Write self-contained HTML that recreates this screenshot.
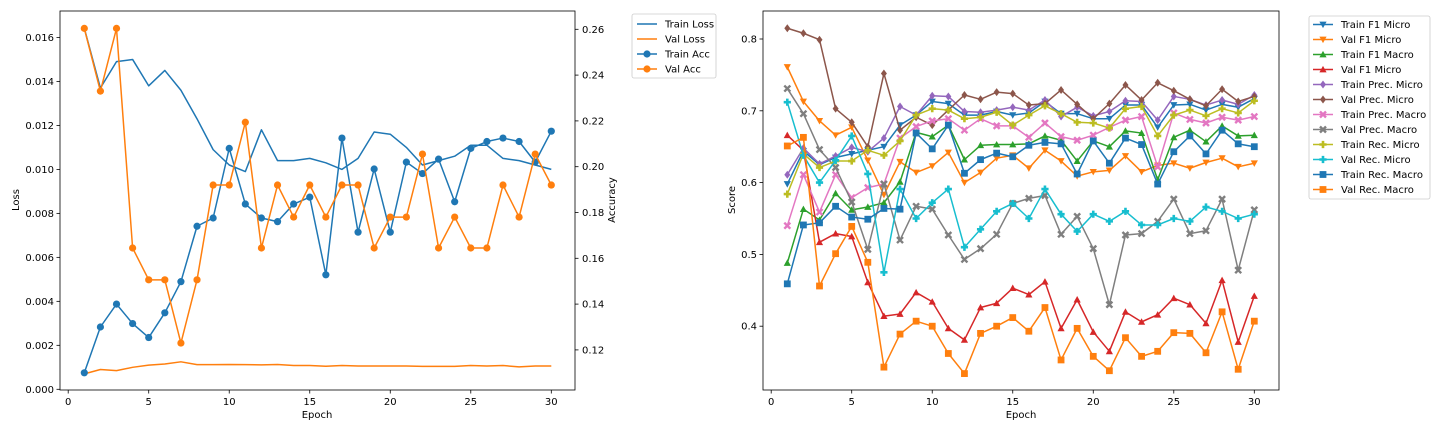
<!DOCTYPE html>
<html><head><meta charset="utf-8"><style>
body{margin:0;background:#fff;width:1440px;height:432px;overflow:hidden}
svg text{font-family:"DejaVu Sans","Liberation Sans",sans-serif;font-size:10px;fill:#000}
</style></head><body>
<svg id="c" width="1440" height="432" xmlns="http://www.w3.org/2000/svg"></svg>
<script>
const epochs=[];for(let i=1;i<=30;i++)epochs.push(i);
const trainLoss=[0.01642,0.0137,0.0149,0.0150,0.0138,0.0145,0.0136,0.0123,0.0109,0.0102,0.0099,0.0118,0.0104,0.0104,0.0105,0.0103,0.0100,0.0105,0.0117,0.0116,0.0110,0.0102,0.0104,0.0106,0.0111,0.0111,0.0105,0.0104,0.0102,0.0100];
const valLoss=[0.0007,0.0009,0.00085,0.0010,0.0011,0.00115,0.00125,0.00112,0.00112,0.00113,0.00112,0.00111,0.00113,0.00108,0.00108,0.00105,0.00108,0.00106,0.00106,0.00106,0.00106,0.00104,0.00104,0.00104,0.00108,0.00106,0.00108,0.00102,0.00106,0.00106];
const trainAcc=[0.110,0.130,0.140,0.1315,0.1254,0.1362,0.1498,0.174,0.1776,0.208,0.1837,0.1776,0.176,0.1837,0.1867,0.1528,0.2125,0.1714,0.199,0.1714,0.202,0.197,0.2033,0.1847,0.208,0.211,0.2125,0.211,0.202,0.2155];
const valAcc=[0.2604,0.233,0.2604,0.1645,0.1506,0.1506,0.123,0.1506,0.192,0.192,0.2194,0.1645,0.192,0.178,0.192,0.178,0.192,0.192,0.1645,0.178,0.178,0.2055,0.1645,0.178,0.1645,0.1645,0.192,0.178,0.2055,0.192];
const lossTicks=["0.000","0.002","0.004","0.006","0.008","0.010","0.012","0.014","0.016"];
const accTicks=["0.12","0.14","0.16","0.18","0.20","0.22","0.24","0.26"];
const xTicks=[0,5,10,15,20,25,30];
const scoreTicks=["0.4","0.5","0.6","0.7","0.8"];
const seriesNames=["Train F1 Micro","Val F1 Micro","Train F1 Macro","Val F1 Micro","Train Prec. Micro","Val Prec. Micro","Train Prec. Macro","Val Prec. Macro","Train Rec. Micro","Val Rec. Micro","Train Rec. Macro","Val Rec. Macro"];
const trainF1Micro=[0.598,0.644,0.625,0.635,0.640,0.645,0.650,0.680,0.694,0.713,0.710,0.694,0.694,0.699,0.694,0.697,0.713,0.696,0.696,0.689,0.689,0.708,0.708,0.677,0.708,0.709,0.701,0.709,0.705,0.717];
const valF1Micro=[0.761,0.713,0.686,0.666,0.677,0.631,0.583,0.629,0.614,0.623,0.642,0.600,0.614,0.634,0.638,0.620,0.645,0.630,0.609,0.615,0.617,0.637,0.615,0.624,0.627,0.620,0.628,0.634,0.622,0.627];
const trainF1Macro=[0.488,0.563,0.548,0.585,0.562,0.566,0.572,0.601,0.670,0.664,0.680,0.632,0.652,0.653,0.653,0.654,0.665,0.659,0.630,0.658,0.650,0.672,0.669,0.604,0.663,0.673,0.657,0.679,0.665,0.666];
const valF1Macro=[0.666,0.645,0.517,0.529,0.525,0.461,0.414,0.417,0.447,0.434,0.397,0.381,0.426,0.432,0.453,0.444,0.462,0.397,0.437,0.392,0.365,0.420,0.406,0.416,0.439,0.430,0.404,0.464,0.378,0.442];
const trainPrecMicro=[0.611,0.648,0.626,0.637,0.649,0.643,0.662,0.706,0.694,0.721,0.720,0.699,0.698,0.701,0.705,0.701,0.715,0.692,0.705,0.693,0.699,0.714,0.713,0.687,0.720,0.716,0.708,0.715,0.709,0.722];
const valPrecMicro=[0.815,0.808,0.799,0.703,0.684,0.650,0.752,0.673,0.691,0.680,0.701,0.722,0.716,0.726,0.724,0.708,0.710,0.729,0.709,0.689,0.710,0.736,0.715,0.739,0.728,0.716,0.707,0.730,0.713,0.720];
const trainPrecMacro=[0.540,0.611,0.559,0.611,0.579,0.593,0.598,0.662,0.678,0.686,0.689,0.673,0.689,0.679,0.679,0.663,0.683,0.664,0.659,0.666,0.677,0.687,0.692,0.622,0.697,0.688,0.683,0.691,0.687,0.692];
const valPrecMacro=[0.731,0.696,0.646,0.621,0.573,0.507,0.598,0.520,0.567,0.563,0.527,0.493,0.508,0.528,0.571,0.578,0.582,0.528,0.553,0.508,0.430,0.527,0.529,0.546,0.577,0.529,0.533,0.577,0.478,0.562];
const trainRecMicro=[0.584,0.640,0.621,0.630,0.630,0.645,0.638,0.658,0.694,0.703,0.701,0.689,0.691,0.698,0.680,0.694,0.707,0.696,0.684,0.683,0.676,0.703,0.706,0.665,0.694,0.701,0.693,0.703,0.697,0.714];
const valRecMicro=[0.712,0.638,0.600,0.631,0.665,0.612,0.475,0.591,0.550,0.572,0.591,0.510,0.535,0.560,0.571,0.550,0.591,0.556,0.532,0.556,0.546,0.560,0.541,0.541,0.550,0.546,0.566,0.560,0.550,0.556];
const trainRecMacro=[0.459,0.541,0.544,0.567,0.552,0.549,0.564,0.563,0.669,0.647,0.680,0.613,0.632,0.641,0.636,0.652,0.656,0.654,0.612,0.658,0.627,0.662,0.653,0.598,0.643,0.665,0.640,0.673,0.654,0.650];
const valRecMacro=[0.651,0.663,0.456,0.501,0.539,0.489,0.343,0.389,0.407,0.400,0.362,0.334,0.390,0.400,0.412,0.393,0.426,0.353,0.397,0.358,0.338,0.384,0.358,0.365,0.391,0.390,0.363,0.420,0.340,0.407];

const NS="http://www.w3.org/2000/svg";
const svg=document.getElementById('c');
function mk(tag,attrs,parent,txt){const e=document.createElementNS(NS,tag);for(const k in attrs)e.setAttribute(k,attrs[k]);if(txt!==undefined)e.textContent=txt;(parent||svg).appendChild(e);return e;}
const COLS=["#1f77b4","#ff7f0e","#2ca02c","#d62728","#9467bd","#8c564b","#e377c2","#7f7f7f","#bcbd22","#17becf","#1f77b4","#ff7f0e"];
const MK=["v","v","^","^","D","D","X","X","P","P","s","s"];
function marker(g,type,x,y,c){
  let e;const r=3.6;
  if(type==="o")e=mk('circle',{cx:x,cy:y,r:3.6,fill:c},g);
  else if(type==="s")e=mk('rect',{x:x-3.4,y:y-3.4,width:6.8,height:6.8,fill:c},g);
  else if(type==="v")e=mk('polygon',{points:`${x-r},${y-r*0.8} ${x+r},${y-r*0.8} ${x},${y+r}`,fill:c},g);
  else if(type==="^")e=mk('polygon',{points:`${x-r},${y+r*0.8} ${x+r},${y+r*0.8} ${x},${y-r}`,fill:c},g);
  else if(type==="D")e=mk('polygon',{points:`${x},${y-4} ${x+3},${y} ${x},${y+4} ${x-3},${y}`,fill:c},g);
  else if(type==="P"){const a=1.3,b=3.6;e=mk('polygon',{points:`${x-a},${y-b} ${x+a},${y-b} ${x+a},${y-a} ${x+b},${y-a} ${x+b},${y+a} ${x+a},${y+a} ${x+a},${y+b} ${x-a},${y+b} ${x-a},${y+a} ${x-b},${y+a} ${x-b},${y-a} ${x-a},${y-a}`,fill:c},g);}
  else if(type==="X"){e=mk('path',{d:`M${x-3},${y-3}L${x+3},${y+3}M${x+3},${y-3}L${x-3},${y+3}`,stroke:c,'stroke-width':2.4},g);}
  
  
  return e;
}
function line(g,xs,ys,c,name){const p=mk('polyline',{points:xs.map((x,i)=>x+','+ys[i]).join(' '),fill:'none',stroke:c,'stroke-width':1.5,'stroke-linejoin':'round'},g);
  
  }

// ---------- Left chart ----------
const L={x0:60,x1:575,y0:11,y1:390};
const lx=e=>84.3+(e-1)*(551.3-84.3)/29;
const ly=v=>389.3-v/0.002*43.98;
const ay=v=>29.3+(0.26-v)/0.02*45.8;
const gl=mk('g',{});
lossTicks.forEach(t=>{const y=ly(+t);mk('line',{x1:L.x0-3.5,x2:L.x0,y1:y,y2:y,stroke:'#000','stroke-width':0.8},gl);
 const tx=mk('text',{x:L.x0-6,y:y+3.5,'text-anchor':'end'},gl,t);});
accTicks.forEach(t=>{const y=ay(+t);mk('line',{x1:L.x1,x2:L.x1+3.5,y1:y,y2:y,stroke:'#000','stroke-width':0.8},gl);
 const tx=mk('text',{x:L.x1+7,y:y+3.5},gl,t);});
xTicks.forEach(t=>{const x=lx(t);mk('line',{x1:x,x2:x,y1:L.y1,y2:L.y1+3.5,stroke:'#000','stroke-width':0.8},gl);
 const tx=mk('text',{x:x,y:L.y1+15,'text-anchor':'middle'},gl,t);});
line(gl,epochs.map(lx),trainLoss.map(ly),COLS[0],'train-loss-line');
line(gl,epochs.map(lx),valLoss.map(ly),COLS[1],'val-loss-line');
line(gl,epochs.map(lx),trainAcc.map(ay),COLS[0],'train-acc-line');
epochs.forEach((e,i)=>marker(gl,'o',lx(e),ay(trainAcc[i]),COLS[0]));
line(gl,epochs.map(lx),valAcc.map(ay),COLS[1],'val-acc-line');
epochs.forEach((e,i)=>marker(gl,'o',lx(e),ay(valAcc[i]),COLS[1]));
let b=mk('rect',{x:L.x0,y:L.y0,width:L.x1-L.x0,height:L.y1-L.y0,fill:'none',stroke:'#000','stroke-width':0.8},gl);

let t=mk('text',{x:317,y:418,'text-anchor':'middle'},gl,'Epoch');
t=mk('text',{x:0,y:0,'text-anchor':'middle',transform:'translate(19,200) rotate(-90)'},gl,'Loss');
t=mk('text',{x:0,y:0,'text-anchor':'middle',transform:'translate(615,200) rotate(-90)'},gl,'Accuracy');
// left legend
const lg=mk('g',{});
mk('rect',{x:632,y:14,width:84,height:64,rx:2,fill:'#fff',stroke:'#ccc','stroke-width':0.8},lg);
[["Train Loss",COLS[0],false],["Val Loss",COLS[1],false],["Train Acc",COLS[0],true],["Val Acc",COLS[1],true]].forEach((d,i)=>{
 const y=24+i*15;mk('line',{x1:637,x2:657,y1:y,y2:y,stroke:d[1],'stroke-width':1.5},lg);
 if(d[2])marker(lg,'o',647,y,d[1]);
 const tx=mk('text',{x:665,y:y+3.5},lg,d[0]);});

// ---------- Right chart ----------
const R={x0:763,x1:1279,y0:11,y1:390};
const rx=e=>787.3+(e-1)*(1254.3-787.3)/29;
const ry=v=>39+(0.8-v)/0.1*71.8;
const gr=mk('g',{});
scoreTicks.forEach(t=>{const y=ry(+t);mk('line',{x1:R.x0-3.5,x2:R.x0,y1:y,y2:y,stroke:'#000','stroke-width':0.8},gr);
 const tx=mk('text',{x:R.x0-6,y:y+3.5,'text-anchor':'end'},gr,t);});
xTicks.forEach(t=>{const x=rx(t);mk('line',{x1:x,x2:x,y1:R.y1,y2:R.y1+3.5,stroke:'#000','stroke-width':0.8},gr);
 const tx=mk('text',{x:x,y:R.y1+15,'text-anchor':'middle'},gr,t);});
const allSeries=[trainF1Micro,valF1Micro,trainF1Macro,valF1Macro,trainPrecMicro,valPrecMicro,trainPrecMacro,valPrecMacro,trainRecMicro,valRecMicro,trainRecMacro,valRecMacro];
allSeries.forEach((s,k)=>{
 line(gr,epochs.map(rx),s.map(ry),COLS[k],'score-line');
 epochs.forEach((e,i)=>marker(gr,MK[k],rx(e),ry(s[i]),COLS[k]));
});
b=mk('rect',{x:R.x0,y:R.y0,width:R.x1-R.x0,height:R.y1-R.y0,fill:'none',stroke:'#000','stroke-width':0.8},gr);

t=mk('text',{x:1021,y:418,'text-anchor':'middle'},gr,'Epoch');
t=mk('text',{x:0,y:0,'text-anchor':'middle',transform:'translate(735,200) rotate(-90)'},gr,'Score');
const rg=mk('g',{});
mk('rect',{x:1309,y:16,width:121,height:183,rx:2,fill:'#fff',stroke:'#ccc','stroke-width':0.8},rg);
seriesNames.forEach((n,k)=>{const y=24.5+k*15;
 mk('line',{x1:1313,x2:1333,y1:y,y2:y,stroke:COLS[k],'stroke-width':1.5},rg);
 marker(rg,MK[k],1323,y,COLS[k]);
 const tx=mk('text',{x:1341,y:y+3.5},rg,n);});
</script>
</body></html>
